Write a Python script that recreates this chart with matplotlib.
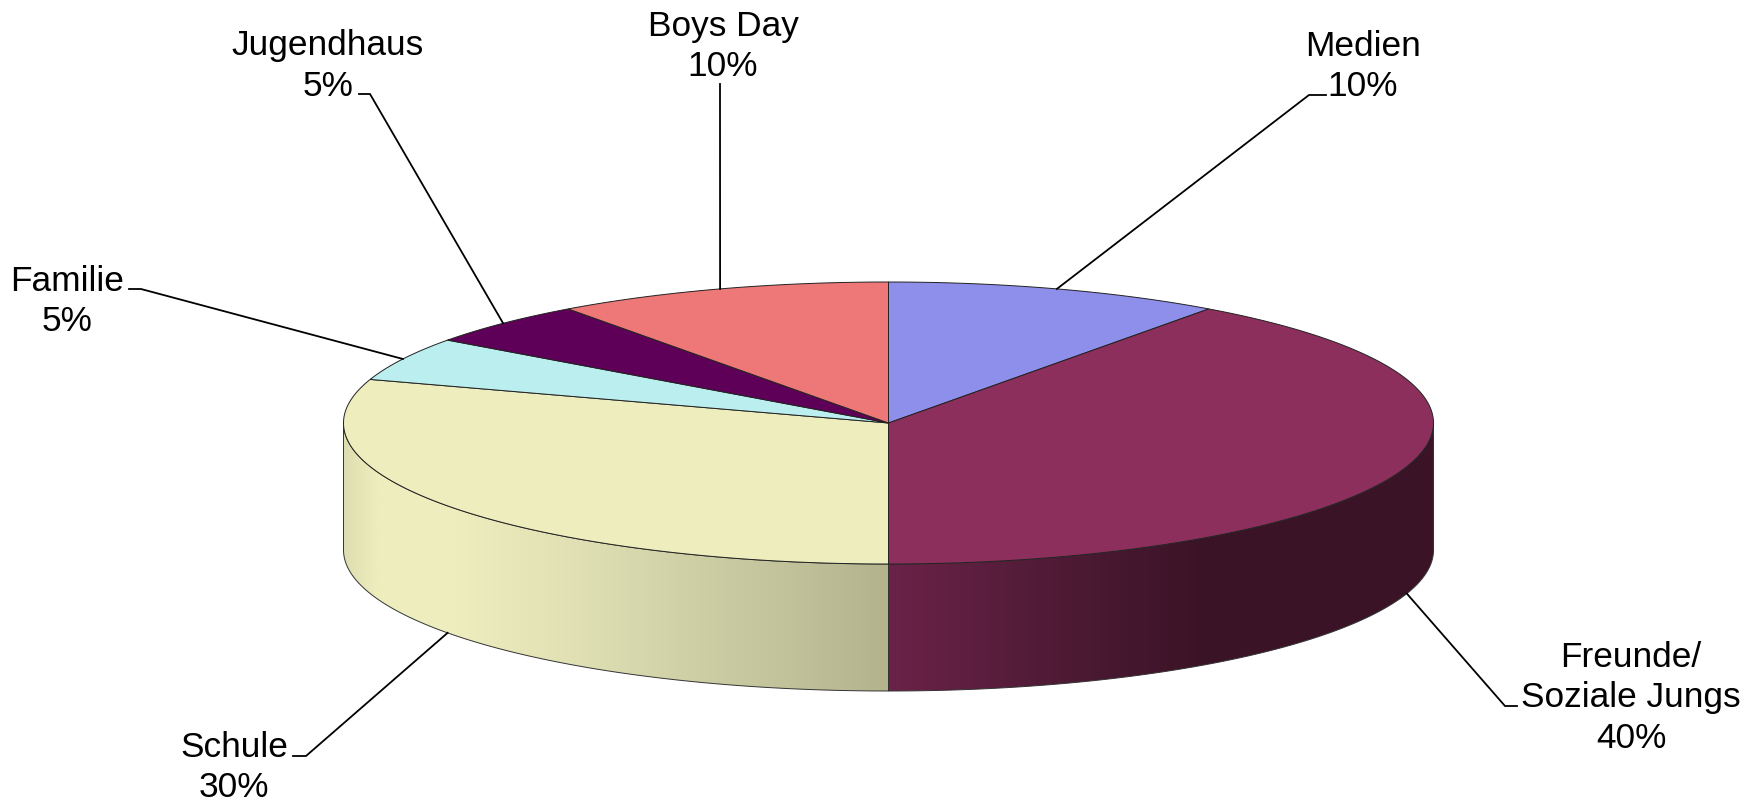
import numpy as np
import matplotlib
matplotlib.use("Agg")
import matplotlib.pyplot as plt
from matplotlib.colors import LinearSegmentedColormap
from matplotlib.patches import Polygon

plt.rcParams['font.family'] = ['Liberation Sans', 'DejaVu Sans']

# clockwise from 12 o'clock
labels = ["Medien", "Freunde/\nSoziale Jungs", "Schule", "Familie", "Jugendhaus", "Boys Day"]
values = [10, 40, 30, 5, 5, 10]
colors = ["#8E8EEB", "#8D2F5C", "#EDEDBE", "#BBEEEE", "#5E0058", "#EE7777"]

# pie geometry in pixels
cx, cy = 888.5, 424
rx, ry = 545, 141
depth = 127

# label text anchor (x, baseline of the first line) and the elbow of the leader line
label_pos = [(1363, 56), (1631, 667), (234, 757), (67, 291), (328, 55), (723, 36)]
elbows = [[(1326, 96), (1309, 96)],
          [(1517, 707), (1505, 707)],
          [(293, 757), (306, 757)],
          [(129, 290), (141, 290)],
          [(359, 95), (370, 95)],
          [(720, 85)]]


def rim(a, dy=0):
    # point(s) on the ellipse, angle in degrees clockwise from the top
    a = np.radians(a)
    return cx + rx * np.sin(a), cy - ry * np.cos(a) + dy


def side_face(a0, a1):
    t = np.linspace(a0, a1, 200)
    x, y = rim(t)
    x2, y2 = rim(t[::-1], depth)
    return np.column_stack([np.r_[x, x2], np.r_[y, y2]])


fig = plt.figure(figsize=(17.59, 8.03), dpi=100)
ax = fig.add_axes([0, 0, 1, 1])
ax.axis("off")

# shaded side of the two front slices, stops run from the rim to the centre line
sides = [
    (90, 180, [(0, "#3B1326"), (0.42, "#3B1326"), (0.7, "#4F1B36"), (1, "#6B2248")]),
    (180, 270, [(0, "#DDDDB0"), (0.06, "#EDEDBE"), (0.21, "#EDEDBE"), (0.47, "#DDDDB2"), (1, "#B3B38E")]),
]
for a0, a1, stops in sides:
    pts = side_face(a0, a1)
    face = Polygon(pts, closed=True, facecolor="none", edgecolor="#333333", lw=0.7, zorder=3)
    ax.add_patch(face)
    cmap = LinearSegmentedColormap.from_list("side", stops)
    grad = np.linspace(0, 1, 256).reshape(1, -1)
    if a0 == 90:
        grad = grad[:, ::-1]
    im = ax.imshow(grad, cmap=cmap, vmin=0, vmax=1, aspect="auto", zorder=2,
                   extent=[pts[:, 0].min(), pts[:, 0].max(), cy + ry + depth + 2, cy - 2])
    im.set_clip_path(face)

ax.set_xlim(0, 1759)
ax.set_ylim(803, 0)

# top of the pie
start = 0
for v, c in zip(values, colors):
    end = start + v / sum(values) * 360
    t = np.linspace(start, end, 150)
    x, y = rim(t)
    pts = np.column_stack([np.r_[cx, x], np.r_[cy, y]])
    ax.add_patch(Polygon(pts, closed=True, facecolor=c, edgecolor="#222222", lw=0.7, zorder=4))
    start = end

# labels and leader lines
start = 0
for name, v, pos, elbow in zip(labels, values, label_pos, elbows):
    share = v / sum(values) * 360
    mid = start + share / 2
    front = 90 < mid < 270
    x, y = rim(mid, depth if front else 0)
    line = np.array(elbow + [(x, y)])
    ax.plot(line[:, 0], line[:, 1], color="black", lw=1.3, zorder=5, solid_joinstyle="miter")
    rows = name.split("\n") + [f"{v}%"]
    for i, row in enumerate(rows):
        ax.text(pos[0], pos[1] + i * 40.5, row, ha="center", va="baseline",
                fontsize=25.4, color="black", zorder=6)
    start += share

fig.savefig("out.png", dpi=100)
